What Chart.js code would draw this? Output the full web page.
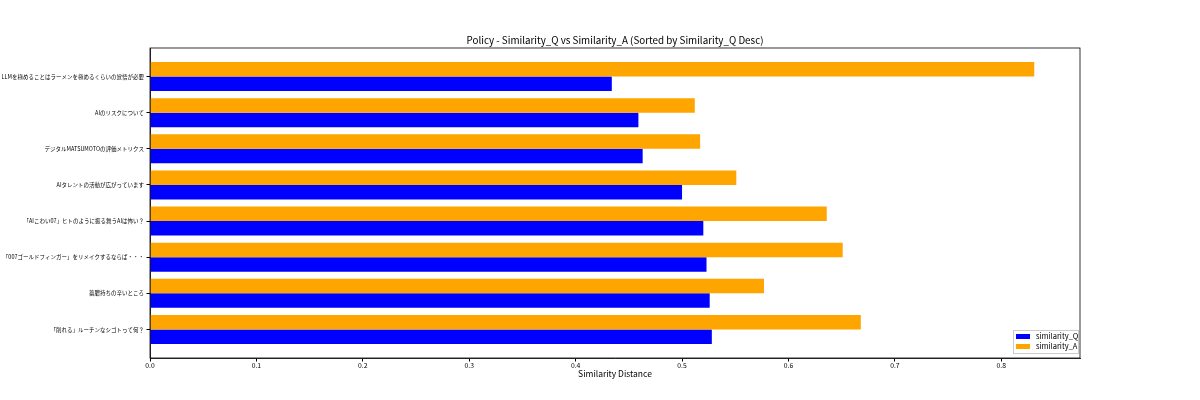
<!DOCTYPE html>
<html>
<head>
<meta charset="utf-8">
<script src="https://cdn.jsdelivr.net/npm/chart.js@4.4.1/dist/chart.umd.min.js"></script>
<style>
  html, body { margin: 0; padding: 0; background: #fff; }
  #wrap { width: 1200px; height: 400px; }
</style>
</head>
<body>
<div id="wrap"><canvas id="chart1"></canvas></div>
<script>
var titles = ["LLMを極めることはラーメンを極めるくらいの覚悟が必要",
    "AIのリスクについて",
    "デジタルMATSUMOTOの評価メトリクス",
    "AIタレントの活動が広がっています",
    "「AIこわい07」ヒトのように振る舞うAIは怖い？",
    "「007ゴールドフィンガー」をリメイクするならば・・・",
    "蓄膿持ちの辛いところ",
    "「削れる」ルーチンなシゴトって何？"];
var simQ = [0.434, 0.459, 0.463, 0.500, 0.520, 0.523, 0.526, 0.528];
var simA = [0.831, 0.512, 0.517, 0.551, 0.636, 0.651, 0.577, 0.668];
var xTicks = [0, 0.1, 0.2, 0.3, 0.4, 0.5, 0.6, 0.7, 0.8];
var chartTitle = 'Policy - Similarity_Q vs Similarity_A (Sorted by Similarity_Q Desc)';

Chart.defaults.font.family = "'Noto Sans CJK JP', 'Noto Sans', sans-serif";
Chart.defaults.color = '#000';

var frame = {
    id: 'frame',
    afterDraw: function (chart) {
        var c = chart.ctx, a = chart.chartArea;
        c.save();
        c.strokeStyle = '#000';
        c.lineWidth = 0.8;
        c.strokeRect(a.left, a.top, a.right - a.left, a.bottom - a.top);

        // title centred over the axes like matplotlib
        c.fillStyle = '#000';
        c.font = "9.8px 'Noto Sans CJK JP', sans-serif";
        c.textAlign = 'center';
        c.textBaseline = 'middle';
        c.fillText(chartTitle, (a.left + a.right) / 2, 40);

        // legend, lower right inside the axes
        var items = [chart.data.datasets[1], chart.data.datasets[0]];
        var bx = a.right - 67, by = a.bottom - 28;
        c.textAlign = 'left';
        c.fillStyle = 'rgba(255,255,255,0.8)';
        c.strokeStyle = '#ccc';
        c.lineWidth = 1;
        c.fillRect(bx, by, 65, 23);
        c.strokeRect(bx + 0.5, by + 0.5, 65, 23);
        c.font = "7.5px 'Noto Sans CJK JP', sans-serif";
        items.forEach(function (ds, i) {
            var y = by + 6.5 + i * 10;
            c.fillStyle = ds.backgroundColor;
            c.fillRect(bx + 3, y - 2.5, 14, 5);
            c.fillStyle = '#000';
            c.fillText(ds.label, bx + 23, y);
        });
        c.restore();
    }
};

window.onload = function () {
    var ctx = document.getElementById('chart1').getContext('2d');
    window.theChart = new Chart(ctx, {
        type: 'bar',
        data: {
            datasets: [
                {
                    label: 'similarity_A',
                    data: simA.map(function (v, i) { return { x: v, y: i }; }),
                    backgroundColor: '#ffa500'
                },
                {
                    label: 'similarity_Q',
                    data: simQ.map(function (v, i) { return { x: v, y: i }; }),
                    backgroundColor: '#0000ff'
                }
            ]
        },
        options: {
            indexAxis: 'y',
            responsive: true,
            maintainAspectRatio: false,
            animation: false,
            categoryPercentage: 0.8,
            barPercentage: 1.0,
            layout: { padding: { left: 0, right: 120, top: 48, bottom: 21 } },
            plugins: {
                legend: { display: false },
                tooltip: { enabled: false },
                title: { display: false }
            },
            scales: {
                x: {
                    type: 'linear',
                    min: 0,
                    max: 0.874,
                    offset: false,
                    afterFit: function (s) { s.height = 21; },
                    afterBuildTicks: function (s) {
                        s.ticks = xTicks.map(function (v) { return { value: v }; });
                    },
                    ticks: {
                        font: { size: 6.8 },
                        padding: 0,
                        maxRotation: 0,
                        callback: function (v) { return v.toFixed(1); }
                    },
                    grid: { drawOnChartArea: false, tickLength: 3.5, tickColor: '#000' },
                    border: { color: '#000', width: 0.8 },
                    title: {
                        display: true,
                        text: 'Similarity Distance',
                        font: { size: 8.5 },
                        padding: { top: 0, bottom: 0 }
                    }
                },
                y: {
                    type: 'linear',
                    reverse: true,
                    offset: false,
                    min: -0.79,
                    max: 7.79,
                    afterFit: function (s) { s.width = 150; },
                    afterBuildTicks: function (s) {
                        s.ticks = titles.map(function (t, i) { return { value: i }; });
                    },
                    ticks: {
                        font: { size: 5.5 },
                        padding: 2.5,
                        callback: function (v) { return titles[v]; }
                    },
                    grid: { drawOnChartArea: false, offset: false, tickLength: 3.5, tickColor: '#000' },
                    border: { color: '#000', width: 0.8 }
                }
            }
        },
        plugins: [frame]
    });
};
</script>
</body>
</html>
